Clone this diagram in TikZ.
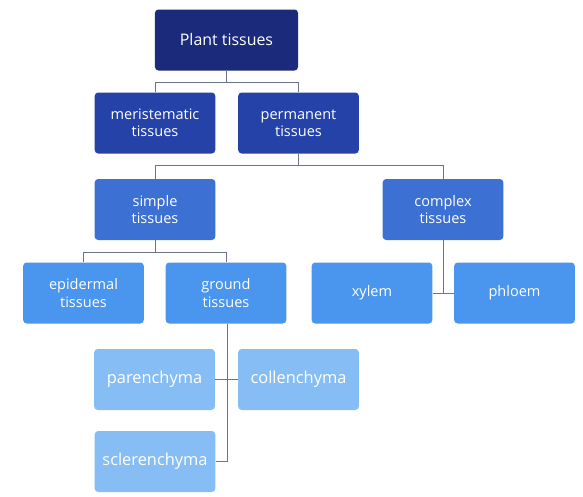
\documentclass[tikz,border=0pt]{standalone}
\usepackage{fontspec}
\setmainfont{Open Sans}
\definecolor{rootblue}{HTML}{1B2A7A}
\definecolor{levelone}{HTML}{2542A8}
\definecolor{leveltwo}{HTML}{3C70D2}
\definecolor{levelthree}{HTML}{4A95EE}
\definecolor{levelfour}{HTML}{86BDF5}
\definecolor{linkgray}{HTML}{6B7585}
\begin{document}
\begin{tikzpicture}[x=0.03cm,y=-0.03cm,
  box/.style={rounded corners=3pt, text=white, inner sep=0pt, align=center,
    minimum width=3.62cm, minimum height=1.83cm, font=\fontsize{12.4}{14.6}\selectfont},
  link/.style={draw=linkgray, line width=0.7pt}]
\useasboundingbox (0,0) rectangle (583,496);

% Raiz
\node [box, fill=rootblue, minimum width=4.29cm, font=\fontsize{13.6}{16}\selectfont] (root) at (226.5,40) {Plant tissues};

% Primer nivel
\node [box, fill=levelone] (meri) at (155,123) {meristematic\\tissues};
\node [box, fill=levelone] (perm) at (298.5,123) {permanent\\tissues};

% Segundo nivel
\node [box, fill=leveltwo] (simp) at (155,209.5) {simple\\tissues};
\node [box, fill=leveltwo] (cplx) at (443,209.5) {complex\\tissues};

% Tercer nivel
\node [box, fill=levelthree] (epid) at (83.5,293) {epidermal\\tissues};
\node [box, fill=levelthree] (grnd) at (226,293) {ground\\tissues};
\node [box, fill=levelthree] (xyl) at (372,293) {xylem};
\node [box, fill=levelthree] (phl) at (514.5,293) {phloem};

% Tejidos fundamentales
\node [box, fill=levelfour, font=\fontsize{14}{16}\selectfont] (par) at (154.5,379.5) {parenchyma};
\node [box, fill=levelfour, font=\fontsize{14}{16}\selectfont] (col) at (298.5,379.5) {collenchyma};
\node [box, fill=levelfour, font=\fontsize{14}{16}\selectfont] (scl) at (155,461.5) {sclerenchyma};

% Conexiones
\draw [link] (root.south) -- ++(0,12) coordinate (j1);
\draw [link] (meri.north) |- (j1) -| (perm.north);
\draw [link] (perm.south) -- ++(0,12) coordinate (j2);
\draw [link] (simp.north) |- (j2) -| (cplx.north);
\draw [link] (simp.south) -- ++(0,12) coordinate (j3);
\draw [link] (epid.north) |- (j3) -| (grnd.north);
\draw [link] (cplx.south) -- (cplx.south |- xyl.east);
\draw [link] (xyl.east) -- (phl.west);
\draw [link] ([xshift=1]grnd.south) |- (scl.east);
\draw [link] (par.east) -- (col.west);
\end{tikzpicture}
\end{document}
